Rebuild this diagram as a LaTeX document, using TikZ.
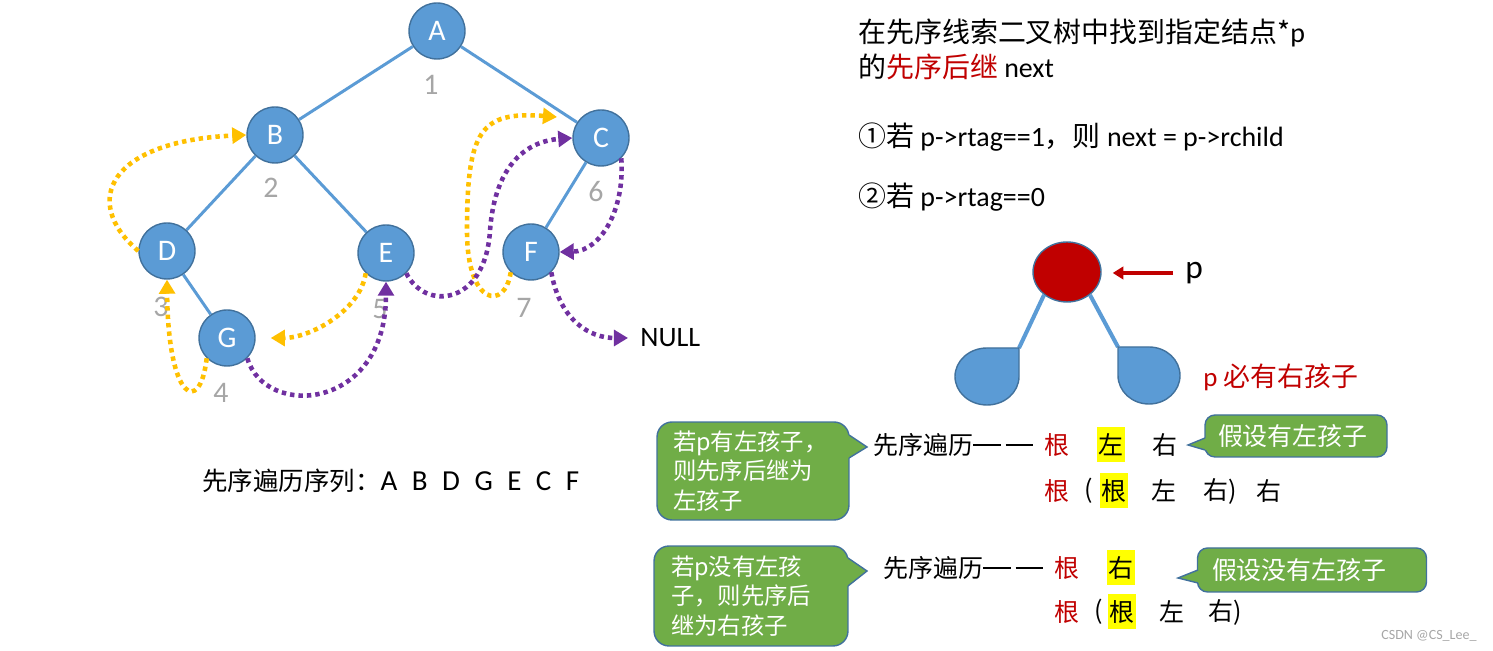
\documentclass[tikz,border=0pt]{standalone}
\usepackage{fontspec}
\setmainfont{Carlito}
\newfontfamily\cjk{Noto Sans CJK SC}
\newfontfamily\latin{Carlito}
\usetikzlibrary{shapes.geometric, arrows.meta}

\definecolor{treeblue}{HTML}{5B9BD5}
\definecolor{treeedge}{HTML}{41719C}
\definecolor{thyellow}{HTML}{FFC000}
\definecolor{thpurple}{HTML}{7030A0}
\definecolor{darkred}{HTML}{C00000}
\definecolor{numgray}{HTML}{A6A6A6}
\definecolor{tipgreen}{HTML}{70AD47}
\definecolor{hlyellow}{HTML}{FFFF00}

\newcommand{\longdash}{\rule[0.32em]{1.1em}{1.3pt}\hspace{0.2em}\rule[0.32em]{1.1em}{1.3pt}}

\tikzset{
  treenode/.style={circle, fill=treeblue, draw=treeedge, line width=0.8pt, minimum size=1.12cm,
    inner sep=0pt, text=white, font=\fontsize{17}{17}\selectfont},
  treeline/.style={treeblue, line width=1.7pt},
  num/.style={text=numgray, inner sep=0pt, font=\fontsize{17}{17}\selectfont},
  thread/.style={line width=2.6pt, dash pattern=on 2.5pt off 2.3pt, -{Triangle[length=8pt, width=9pt]}},
  ythread/.style={thread, thyellow},
  pthread/.style={thread, thpurple},
  note/.style={anchor=west, inner sep=0pt, font=\cjk\fontsize{15.9}{15.9}\selectfont},
  row/.style={inner sep=0pt, font=\cjk\fontsize{14.2}{14.2}\selectfont},
  hl/.style={row, fill=hlyellow, minimum width=0.56cm, minimum height=0.7cm},
  tipbox/.style={rectangle, fill=tipgreen, draw=treeedge, line width=0.8pt, text=white,
    inner sep=0pt, align=left, font=\cjk\fontsize{13.3}{17}\selectfont},
  tipedge/.style={treeedge, line width=0.8pt}
}

\begin{document}
\begin{tikzpicture}[x=0.02cm, y=0.02cm]
  \useasboundingbox (0,0) rectangle (1493,651);

  \node[treenode] (A) at (437,620) {A};
  \node[treenode] (B) at (275,516) {B};
  \node[treenode] (C) at (601,513) {C};
  \node[treenode] (D) at (167,400) {D};
  \node[treenode] (E) at (386,398) {E};
  \node[treenode] (F) at (531,399) {F};
  \node[treenode] (G) at (227,313) {G};

  \draw[treeline] (A) -- (B);
  \draw[treeline] (A) -- (C);
  \draw[treeline] (B) -- (D);
  \draw[treeline] (B) -- (E);
  \draw[treeline] (C) -- (F);
  \draw[treeline] (D) -- (G);

  \node[num] (n1) at (431,566) {1};
  \node[num] (n2) at (271,463) {2};
  \node[num] (n3) at (161,344) {3};
  \node[num] (n4) at (221,258) {4};
  \node[num] (n5) at (380,342) {5};
  \node[num] (n6) at (596,459) {6};
  \node[num] (n7) at (524,343) {7};

  \node[anchor=west, inner sep=0pt, font=\fontsize{16}{16}\selectfont] (null) at (640,313) {NULL};
  \coordinate (cup) at (557,534);

  \draw[ythread] (D.west) .. controls (80,450) and (110,510) .. (B.west);
  \draw[ythread] (G.225) .. controls (200,235) and (168,250) .. (D.south);
  \draw[ythread, shorten >=0.3cm] (E.225) .. controls (360,340) and (310,313) .. (G.east);
  \draw[ythread] (F.225) .. controls (505,340) and (467,345) .. (467,420)
                 .. controls (467,520) and (480,540) .. (cup);

  \draw[pthread] (G.-45) .. controls (265,232) and (386,240) .. (E.south);
  \draw[pthread] (E.-45) .. controls (425,340) and (485,345) .. (490,420)
                 .. controls (495,490) and (530,510) .. (C.west);
  \draw[pthread] (C.-45) .. controls (625,440) and (600,400) .. (F.east);
  \draw[pthread, shorten >=0.24cm] (F.-45) .. controls (560,330) and (590,313) .. (null.west);

  \node[anchor=west, inner sep=0pt, font=\cjk\fontsize{14.5}{14.5}\selectfont] (seq) at (202,170)
    {先序遍历序列：{\latin\fontsize{16.5}{16.5}\selectfont A\hspace{.5em}B\hspace{.5em}D\hspace{.5em}G\hspace{.5em}E\hspace{.5em}C\hspace{.5em}F}};

  \node[note] (title1) at (858,618) {在先序线索二叉树中找到指定结点*{\latin p}};
  \node[note] (title2) at (858,584) {的\textcolor{darkred}{先序后继} {\latin next}};
  \node[note] (case1) at (858,514) {①若 {\latin p->rtag==1}，则 {\latin next = p->rchild}};
  \node[note] (case2) at (858,454) {②若 {\latin p->rtag==0}};

  \node[ellipse, fill=darkred, draw=treeedge, line width=0.8pt, minimum width=1.36cm,
        minimum height=1.2cm, inner sep=0pt] (pnode) at (1067,379) {};
  \node[anchor=west, inner sep=0pt, font=\fontsize{19}{19}\selectfont] (plabel) at (1185,378) {p};
  \draw[darkred, line width=1.9pt, -{Triangle[length=6pt, width=7pt]},
        shorten <=0.24cm, shorten >=0.22cm] (plabel.west) -- (plabel.west -| pnode.east);

  \coordinate (lcorner) at (1019,303);
  \coordinate (rcorner) at (1118,304);
  \draw[treeline, line width=2.3pt] (pnode.225) -- (lcorner);
  \draw[treeline, line width=2.3pt] (pnode.-45) -- (rcorner);
  \filldraw[fill=treeblue, draw=treeedge, line width=0.8pt] (lcorner) -- ++(0,-28.5)
    arc[start angle=0, end angle=-270, x radius=32, y radius=28.5] -- cycle;
  \filldraw[fill=treeblue, draw=treeedge, line width=0.8pt] (rcorner) -- ++(0,-28.5)
    arc[start angle=180, end angle=450, x radius=31, y radius=28.5] -- cycle;
  \node[note, text=darkred, font=\cjk\fontsize{15.3}{15.3}\selectfont] (mustright) at (1203,274) {{\latin p} 必有右孩子};

  \node[tipbox, minimum width=3.84cm, minimum height=1.96cm, text width=3.2cm,
        rounded corners=0.3cm] (tipA) at (753,180) {若p有左孩子，\\则先序后继为\\左孩子};
  \fill[tipgreen] (845,216) -- (849,216) -- (867,204) -- (849,193) -- (845,193) -- cycle;
  \draw[tipedge] (849,216) -- (867,204) -- (849,193);

  \node[tipbox, minimum width=3.64cm, minimum height=0.84cm, text width=3.12cm,
        rounded corners=0.2cm, font=\cjk\fontsize{14.2}{14.2}\selectfont] (tipB) at (1296,215) {假设有左孩子};
  \fill[tipgreen] (1209,213) -- (1205,213) -- (1188,206) -- (1205,201) -- (1209,201) -- cycle;
  \draw[tipedge] (1205,213) -- (1188,206) -- (1205,201);

  \node[tipbox, minimum width=3.88cm, minimum height=2cm, text width=3.2cm,
        rounded corners=0.3cm] (tipC) at (751,55) {若p没有左孩\\子，则先序后\\继为右孩子};
  \fill[tipgreen] (844,93) -- (848,93) -- (867,80) -- (848,65) -- (844,65) -- cycle;
  \draw[tipedge] (848,93) -- (867,80) -- (848,65);

  \node[tipbox, minimum width=4.58cm, minimum height=0.88cm, text width=4cm,
        rounded corners=0.2cm, font=\cjk\fontsize{14.2}{14.2}\selectfont] (tipD) at (1312,81) {假设没有左孩子};
  \fill[tipgreen] (1202,81) -- (1198,81) -- (1178,73) -- (1198,68) -- (1202,68) -- cycle;
  \draw[tipedge] (1198,81) -- (1178,73) -- (1198,68);

  \node[row, anchor=west] (pre1) at (873,206) {先序遍历\longdash};
  \node[row, text=darkred] (r1a) at (1057,206) {根};
  \node[hl] (r1b) at (1111,206) {左};
  \node[row] (r1c) at (1165,206) {右};

  \node[row, text=darkred] (r2a) at (1057,160) {根};
  \node[row] (r2p) at (1089,160) {(};
  \node[hl] (r2b) at (1114,160) {根};
  \node[row] (r2c) at (1164,160) {左};
  \node[row] (r2d) at (1220,160) {右)};
  \node[row] (r2e) at (1269,160) {右};

  \node[row, anchor=west] (pre2) at (883,83) {先序遍历\longdash};
  \node[row, text=darkred] (r3a) at (1067,83) {根};
  \node[hl] (r3b) at (1121,83) {右};

  \node[row, text=darkred] (r4a) at (1067,39) {根};
  \node[row] (r4p) at (1099,39) {(};
  \node[hl] (r4b) at (1122,39) {根};
  \node[row] (r4c) at (1172,39) {左};
  \node[row] (r4d) at (1225,39) {右)};

  \node[text=numgray, font=\fontsize{8}{8}\selectfont, inner sep=0pt] (mark) at (1429,15) {CSDN @CS\_Lee\_};
\end{tikzpicture}
\end{document}
